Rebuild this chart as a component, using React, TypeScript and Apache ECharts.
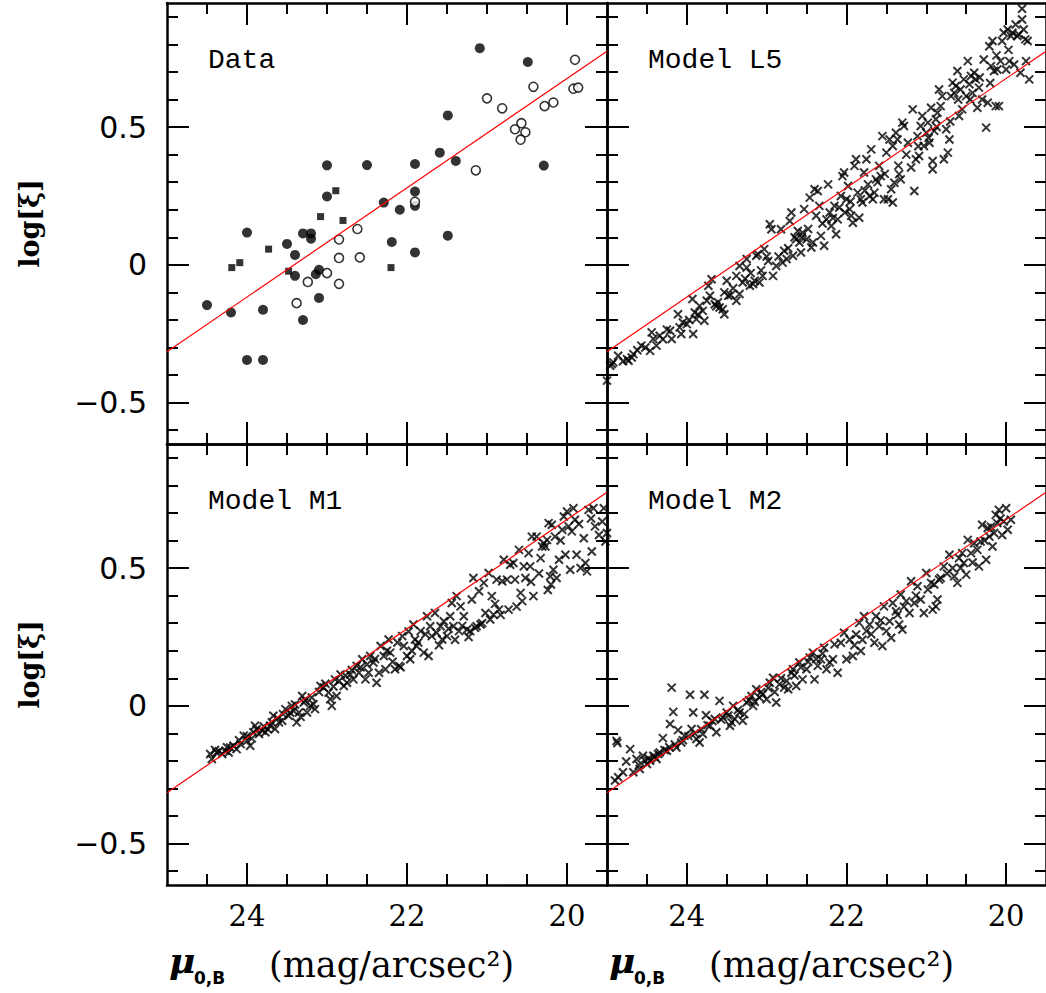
import React, { useEffect, useRef } from "react";
import * as echarts from "echarts";

// ---- axes ----
const X_MIN = 19.5;
const X_MAX = 25;
const Y_MIN = -0.65;
const Y_MAX = 0.95;
const X_MAJOR = [20, 22, 24];
const X_MINOR = [20.5, 21, 21.5, 22.5, 23, 23.5, 24.5];
const Y_MAJOR = [-0.5, 0, 0.5];
const Y_MINOR = [-0.6, -0.4, -0.3, -0.2, -0.1, 0.1, 0.2, 0.3, 0.4, 0.6, 0.7, 0.8, 0.9];

// ---- fit line (same in every panel) ----
const FIT_LINE = [
  [25, -0.315],
  [19.5, 0.775],
];

const PANEL_LABELS = ["Data", "Model L5", "Model M1", "Model M2"];

// ---- Data panel ----
const dataFilled = [
  [24.5, -0.146], [24.2, -0.173], [24.0, 0.117], [24.0, -0.345], [23.8, -0.345],
  [23.8, -0.163], [23.5, 0.076], [23.4, 0.036], [23.4, -0.04], [23.3, 0.114],
  [23.2, 0.114], [23.2, 0.095], [23.3, -0.2], [23.1, -0.018], [23.14, -0.034],
  [23.1, -0.12], [23.0, 0.361], [23.0, 0.248], [22.5, 0.362], [22.29, 0.226],
  [22.19, 0.083], [22.09, 0.2], [21.9, 0.366], [21.9, 0.266], [21.9, 0.214],
  [21.9, 0.045], [21.59, 0.407], [21.49, 0.542], [21.49, 0.106], [21.39, 0.377],
  [21.09, 0.786], [20.49, 0.736], [20.29, 0.36],
];
const dataSquares = [
  [24.19, -0.01], [24.09, 0.008], [23.73, 0.057], [23.48, -0.023],
  [23.08, 0.175], [22.89, 0.269], [22.8, 0.161], [22.2, -0.01],
];
const dataOpen = [
  [23.38, -0.139], [23.24, -0.062], [23.0, -0.03], [22.85, -0.069], [22.85, 0.025],
  [22.85, 0.092], [22.62, 0.13], [22.59, 0.027], [21.9, 0.229], [21.14, 0.343],
  [21.0, 0.604], [20.81, 0.568], [20.65, 0.492], [20.57, 0.514], [20.52, 0.481],
  [20.58, 0.454], [20.42, 0.646], [20.28, 0.576], [20.17, 0.589], [19.9, 0.744],
  [19.92, 0.639], [19.86, 0.643],
];

// ---- Model L5 ----
const modelL5 = [
  [25.0, -0.42], [24.96, -0.366], [24.92, -0.354], [24.94, -0.36], [24.86, -0.33],
  [24.75, -0.342], [24.73, -0.348], [24.69, -0.336], [24.67, -0.324], [24.57, -0.293],
  [24.46, -0.312], [24.44, -0.245], [24.42, -0.269], [24.38, -0.293], [24.34, -0.257],
  [24.21, -0.239], [24.19, -0.269], [24.09, -0.227], [24.07, -0.251], [24.11, -0.179],
  [24.05, -0.209], [24.0, -0.215], [23.92, -0.251], [23.93, -0.124], [23.9, -0.173],
  [23.88, -0.197], [23.84, -0.149], [23.8, -0.167], [23.78, -0.203], [23.75, -0.13],
  [23.73, -0.076], [23.69, -0.052], [23.71, -0.112], [23.65, -0.143], [23.61, -0.136],
  [23.59, -0.155], [23.55, -0.161], [23.53, -0.179], [23.53, -0.1], [23.5, -0.058],
  [23.48, -0.112], [23.38, -0.13], [23.38, -0.04], [23.34, -0.004], [23.34, -0.106],
  [23.3, -0.064], [23.25, 0.021], [23.25, -0.01], [23.21, -0.076], [23.17, -0.07],
  [23.15, -0.058], [23.13, 0.033], [23.11, 0.039], [23.09, -0.064], [23.05, -0.04],
  [23.03, 0.057], [22.98, 0.014], [22.96, 0.147], [22.94, 0.129], [22.92, -0.04],
  [22.88, -0.004], [22.82, 0.129], [22.8, 0.008], [22.78, 0.051], [22.75, 0.021],
  [22.71, 0.159], [22.69, 0.19], [22.67, 0.033], [22.63, 0.093], [22.61, 0.123],
  [22.59, 0.081], [22.57, 0.045], [22.55, 0.117], [22.53, 0.202], [22.5, 0.093],
  [22.46, 0.244], [22.44, 0.063], [22.42, 0.081], [22.4, 0.274], [22.38, 0.178],
  [22.36, 0.268], [22.34, 0.214], [22.32, 0.105], [22.28, 0.069], [22.25, 0.165],
  [22.23, 0.292], [22.21, 0.19], [22.19, 0.141], [22.15, 0.214], [22.13, 0.111],
  [22.11, 0.165], [22.09, 0.208], [22.07, 0.25], [22.05, 0.322], [22.03, 0.335],
  [22.0, 0.238], [21.98, 0.286], [21.96, 0.202], [21.94, 0.178], [21.92, 0.153],
  [21.9, 0.359], [21.88, 0.383], [21.86, 0.262], [21.84, 0.171], [21.82, 0.238],
  [21.8, 0.226], [21.78, 0.335], [21.75, 0.383], [21.73, 0.292], [21.71, 0.25],
  [21.69, 0.419], [21.67, 0.238], [21.65, 0.262], [21.63, 0.31], [21.59, 0.359],
  [21.57, 0.322], [21.55, 0.467], [21.53, 0.238], [21.5, 0.407], [21.48, 0.238],
  [21.46, 0.455], [21.44, 0.274], [21.42, 0.226], [21.42, 0.431], [21.4, 0.298],
  [21.38, 0.479], [21.36, 0.455], [21.34, 0.329], [21.32, 0.31], [21.3, 0.516],
  [21.28, 0.504], [21.23, 0.443], [21.19, 0.353], [21.17, 0.564], [21.15, 0.268],
  [21.13, 0.383], [21.11, 0.467], [21.09, 0.395], [21.07, 0.504], [21.05, 0.54],
  [21.03, 0.431], [21.0, 0.479], [20.98, 0.516], [20.96, 0.443], [20.94, 0.57],
  [20.92, 0.377], [20.92, 0.347], [20.9, 0.486], [20.88, 0.528], [20.86, 0.552],
  [20.84, 0.636], [20.82, 0.576], [20.8, 0.612], [20.78, 0.383], [20.75, 0.492],
  [20.73, 0.407], [20.71, 0.455], [20.69, 0.612], [20.67, 0.661], [20.65, 0.624],
  [20.63, 0.649], [20.61, 0.703], [20.59, 0.54], [20.57, 0.636], [20.55, 0.564],
  [20.53, 0.673], [20.5, 0.612], [20.48, 0.739], [20.46, 0.655], [20.44, 0.685],
  [20.42, 0.624], [20.4, 0.697], [20.38, 0.673], [20.36, 0.57], [20.34, 0.643],
  [20.3, 0.6], [20.28, 0.745], [20.25, 0.498], [20.23, 0.588], [20.21, 0.793],
  [20.19, 0.721], [20.17, 0.812], [20.15, 0.703], [20.13, 0.576], [20.11, 0.709],
  [20.09, 0.576], [20.07, 0.739], [20.05, 0.812], [20.03, 0.842], [20.0, 0.709],
  [19.98, 0.854], [19.96, 0.739], [19.94, 0.83], [19.92, 0.842], [19.9, 0.727],
  [19.88, 0.872], [19.86, 0.83], [19.84, 0.836], [19.82, 0.697], [19.8, 0.929],
  [19.8, 0.89], [19.78, 0.854], [19.76, 0.818], [19.75, 0.739], [19.73, 0.812],
  [19.71, 0.673],
  [24.8, -0.35], [24.62, -0.31], [24.52, -0.3], [24.3, -0.27], [24.25, -0.235],
  [23.97, -0.2], [23.86, -0.18], [23.63, -0.15], [23.45, -0.11], [23.42, -0.085],
  [23.27, -0.05], [23.2, -0.03], [23.07, -0.02], [23.0, 0.03], [22.85, 0.03],
  [22.73, 0.06], [22.65, 0.1], [22.56, 0.1], [22.48, 0.13], [22.3, 0.15],
  [22.17, 0.17], [22.02, 0.19], [21.95, 0.23], [21.77, 0.27], [21.61, 0.3],
  [21.52, 0.33], [21.35, 0.36], [21.25, 0.4], [21.1, 0.43], [20.97, 0.46],
  [20.87, 0.5], [20.7, 0.52], [20.6, 0.6], [20.45, 0.6], [20.33, 0.68],
  [20.2, 0.66], [20.12, 0.76], [19.97, 0.78],
];

// ---- Model M1 ----
const modelM1 = [
  [24.46, -0.175], [24.44, -0.193], [24.38, -0.169], [24.31, -0.175], [24.27, -0.163],
  [24.23, -0.169], [24.21, -0.151], [24.17, -0.145], [24.13, -0.157], [24.08, -0.139],
  [24.04, -0.108], [24.0, -0.127], [23.96, -0.145], [23.92, -0.096], [23.9, -0.072],
  [23.85, -0.102], [23.81, -0.09], [23.77, -0.096], [23.71, -0.072], [23.67, -0.036],
  [23.65, -0.084], [23.6, -0.06], [23.56, -0.054], [23.52, -0.012], [23.48, -0.036],
  [23.44, 0.0], [23.42, -0.018], [23.38, -0.06], [23.35, -0.024], [23.31, 0.036],
  [23.29, 0.012], [23.25, -0.024], [23.21, 0.0], [23.17, 0.006], [23.15, -0.012],
  [23.08, 0.072], [23.04, 0.066], [22.98, 0.048], [22.96, 0.024], [22.94, 0.0],
  [22.9, 0.096], [22.88, 0.036], [22.83, 0.114], [22.79, 0.072], [22.75, 0.084],
  [22.71, 0.114], [22.67, 0.096], [22.63, 0.145], [22.6, 0.12], [22.56, 0.169],
  [22.52, 0.096], [22.48, 0.12], [22.46, 0.181], [22.42, 0.157], [22.38, 0.084],
  [22.33, 0.217], [22.29, 0.181], [22.27, 0.133], [22.23, 0.241], [22.21, 0.193],
  [22.15, 0.133], [22.1, 0.145], [22.06, 0.253], [22.04, 0.217], [22.0, 0.181],
  [21.96, 0.169], [21.92, 0.295], [21.9, 0.241], [21.88, 0.217], [21.83, 0.271],
  [21.79, 0.193], [21.75, 0.325], [21.73, 0.181], [21.71, 0.289], [21.69, 0.253],
  [21.65, 0.337], [21.63, 0.265], [21.58, 0.289], [21.56, 0.241], [21.54, 0.307],
  [21.5, 0.253], [21.46, 0.325], [21.44, 0.373], [21.42, 0.289], [21.38, 0.398],
  [21.35, 0.271], [21.33, 0.361], [21.29, 0.325], [21.25, 0.277], [21.21, 0.271],
  [21.19, 0.386], [21.17, 0.464], [21.15, 0.283], [21.13, 0.289], [21.1, 0.416],
  [21.08, 0.295], [21.04, 0.446], [21.02, 0.337], [20.98, 0.482], [20.96, 0.313],
  [20.94, 0.398], [20.92, 0.331], [20.88, 0.458], [20.85, 0.349], [20.81, 0.452],
  [20.79, 0.53], [20.75, 0.458], [20.73, 0.349], [20.71, 0.512], [20.67, 0.518],
  [20.65, 0.458], [20.6, 0.566], [20.58, 0.41], [20.56, 0.38], [20.54, 0.506],
  [20.52, 0.464], [20.48, 0.554], [20.46, 0.506], [20.44, 0.614], [20.42, 0.398],
  [20.38, 0.614], [20.33, 0.536], [20.31, 0.578], [20.29, 0.59], [20.27, 0.578],
  [20.25, 0.602], [20.23, 0.663], [20.21, 0.47], [20.19, 0.657], [20.17, 0.494],
  [20.15, 0.614], [20.13, 0.464], [20.1, 0.53], [20.06, 0.639], [20.04, 0.687],
  [20.02, 0.548], [20.0, 0.705], [19.98, 0.651], [19.96, 0.494], [19.94, 0.633],
  [19.92, 0.717], [19.9, 0.675], [19.88, 0.548], [19.83, 0.5], [19.79, 0.608],
  [19.77, 0.518], [19.75, 0.488], [19.73, 0.711], [19.69, 0.56], [19.67, 0.717],
  [19.65, 0.651], [19.6, 0.62], [19.56, 0.669], [19.54, 0.717], [19.52, 0.596],
  [19.5, 0.627],
  [24.4, -0.16], [24.35, -0.165], [24.25, -0.15], [24.1, -0.125], [24.0, -0.11],
  [23.94, -0.118], [23.88, -0.085], [23.79, -0.075], [23.74, -0.085], [23.69, -0.06],
  [23.62, -0.045], [23.55, -0.03], [23.46, -0.025], [23.4, 0.005], [23.33, -0.04],
  [23.27, 0.02], [23.19, 0.03], [23.1, 0.05], [23.02, 0.08], [22.92, 0.07],
  [22.85, 0.09], [22.77, 0.11], [22.69, 0.13], [22.58, 0.14], [22.5, 0.15],
  [22.4, 0.17], [22.35, 0.12], [22.25, 0.2], [22.18, 0.16], [22.12, 0.23],
  [22.08, 0.14], [21.98, 0.27], [21.94, 0.2],
  [21.86, 0.23], [21.77, 0.26], [21.6, 0.22], [21.48, 0.28], [21.4, 0.24],
  [21.31, 0.29], [21.23, 0.25], [21.06, 0.3], [20.9, 0.37], [20.83, 0.33],
  [20.63, 0.36], [20.45, 0.45], [20.35, 0.48], [20.24, 0.42], [20.2, 0.44],
  [20.08, 0.6], [19.85, 0.66], [19.7, 0.68],
];

// ---- Model M2 ----
const modelM2 = [
  [24.88, -0.127], [24.87, -0.135], [24.9, -0.271], [24.86, -0.259], [24.8, -0.241],
  [24.76, -0.202], [24.71, -0.157], [24.67, -0.241], [24.63, -0.193], [24.59, -0.229],
  [24.55, -0.181], [24.5, -0.211], [24.46, -0.199], [24.42, -0.181], [24.38, -0.193],
  [24.34, -0.169], [24.3, -0.117], [24.25, -0.163], [24.21, -0.066], [24.19, 0.066],
  [24.17, -0.022], [24.13, -0.151], [24.11, -0.088], [24.07, -0.133], [24.03, -0.108],
  [23.96, 0.04], [23.94, -0.084], [23.92, -0.024], [23.88, -0.12], [23.84, -0.133],
  [23.8, -0.102], [23.78, 0.04], [23.76, -0.034], [23.71, -0.072], [23.65, -0.048],
  [23.63, -0.096], [23.59, 0.018], [23.55, -0.042], [23.5, -0.024], [23.46, -0.072],
  [23.42, 0.0], [23.4, -0.048], [23.34, -0.024], [23.3, -0.054], [23.25, 0.012],
  [23.19, 0.036], [23.17, 0.0], [23.13, 0.06], [23.09, 0.03], [23.05, 0.042],
  [23.0, 0.024], [22.96, 0.084], [22.92, 0.102], [22.88, 0.012], [22.84, 0.078],
  [22.78, 0.066], [22.73, 0.06], [22.69, 0.12], [22.67, 0.133], [22.63, 0.072],
  [22.59, 0.157], [22.55, 0.096], [22.5, 0.133], [22.46, 0.175], [22.42, 0.193],
  [22.4, 0.096], [22.36, 0.145], [22.32, 0.169], [22.28, 0.211], [22.25, 0.133],
  [22.21, 0.157], [22.17, 0.169], [22.15, 0.223], [22.11, 0.12], [22.07, 0.229],
  [22.03, 0.265], [22.0, 0.169], [21.96, 0.241], [21.92, 0.181], [21.88, 0.259],
  [21.84, 0.301], [21.82, 0.199], [21.78, 0.325], [21.75, 0.271], [21.71, 0.295],
  [21.65, 0.229], [21.63, 0.325], [21.59, 0.289], [21.55, 0.217], [21.53, 0.361],
  [21.5, 0.271], [21.46, 0.307], [21.44, 0.247], [21.42, 0.373], [21.38, 0.343],
  [21.34, 0.295], [21.32, 0.404], [21.3, 0.277], [21.25, 0.38], [21.21, 0.337],
  [21.19, 0.452], [21.15, 0.373], [21.11, 0.434], [21.07, 0.386], [21.03, 0.337],
  [21.0, 0.482], [20.98, 0.422], [20.94, 0.446], [20.92, 0.349], [20.88, 0.361],
  [20.86, 0.386], [20.84, 0.458], [20.82, 0.464], [20.78, 0.506], [20.71, 0.548],
  [20.67, 0.5], [20.65, 0.47], [20.61, 0.446], [20.59, 0.536], [20.55, 0.554],
  [20.53, 0.518], [20.5, 0.476], [20.48, 0.602], [20.44, 0.554], [20.4, 0.59],
  [20.36, 0.566], [20.34, 0.506], [20.32, 0.596], [20.3, 0.657], [20.25, 0.53],
  [20.23, 0.645], [20.21, 0.614], [20.17, 0.578], [20.15, 0.627], [20.13, 0.693],
  [20.11, 0.663], [20.09, 0.711], [20.05, 0.62], [20.03, 0.669], [20.0, 0.717],
  [19.98, 0.639], [19.94, 0.675],
  [24.6, -0.215], [24.52, -0.2], [24.48, -0.19], [24.4, -0.185], [24.36, -0.175],
  [24.28, -0.16], [24.22, -0.15], [24.15, -0.14], [24.05, -0.125], [23.98, -0.11],
  [23.9, -0.1], [23.82, -0.085], [23.74, -0.07], [23.68, -0.055], [23.57, -0.05],
  [23.48, -0.035], [23.44, -0.06], [23.36, -0.015], [23.28, -0.03], [23.22, 0.02],
  [23.15, 0.015], [23.07, 0.05], [22.98, 0.065], [22.9, 0.05], [22.82, 0.1],
  [22.75, 0.09], [22.65, 0.11], [22.57, 0.14], [22.48, 0.16], [22.38, 0.17],
  [22.3, 0.19],
  [21.9, 0.22], [21.8, 0.24], [21.69, 0.26], [21.57, 0.31], [21.36, 0.33],
  [21.28, 0.36], [21.13, 0.4], [20.9, 0.44], [20.74, 0.48], [20.57, 0.5],
  [20.42, 0.52], [20.27, 0.6], [20.19, 0.65], [20.07, 0.68],
];

const MODEL_SERIES = [modelL5, modelM1, modelM2];

const GRIDS = [
  { left: 167, top: 3, width: 440, height: 441 },
  { left: 607, top: 3, width: 440, height: 441 },
  { left: 167, top: 444, width: 440, height: 441 },
  { left: 607, top: 444, width: 440, height: 441 },
];

const CROSS = "path://M0,0L10,10M10,0L0,10";

const tickStyle = { color: "#000", width: 2 };
const frameLine = { show: true, onZero: false, lineStyle: { color: "#000", width: 2.5 } };
const noLine = { show: false, onZero: false };

function xAxesFor(gridIndex: number, showLabels: boolean) {
  const base = {
    type: "value",
    gridIndex,
    min: X_MIN,
    max: X_MAX,
    inverse: true,
    splitLine: { show: false },
  };
  const major = (position: string, labels: boolean) => ({
    ...base,
    position,
    axisLine: frameLine,
    axisTick: { show: true, inside: true, length: 22, customValues: X_MAJOR, lineStyle: tickStyle },
    axisLabel: {
      show: labels,
      customValues: X_MAJOR,
      margin: 16,
      color: "#000",
      fontFamily: "DejaVu Serif",
      fontSize: 29,
    },
  });
  const minor = (position: string) => ({
    ...base,
    position,
    axisLine: noLine,
    axisTick: { show: true, inside: true, length: 11, customValues: X_MINOR, lineStyle: tickStyle },
    axisLabel: { show: false },
  });
  return [major("bottom", showLabels), minor("bottom"), major("top", false), minor("top")];
}

function yAxesFor(gridIndex: number, showLabels: boolean) {
  const base = {
    type: "value",
    gridIndex,
    min: Y_MIN,
    max: Y_MAX,
    splitLine: { show: false },
  };
  const major = (position: string, labels: boolean) => ({
    ...base,
    position,
    axisLine: frameLine,
    axisTick: { show: true, inside: true, length: 22, customValues: Y_MAJOR, lineStyle: tickStyle },
    axisLabel: {
      show: labels,
      customValues: Y_MAJOR,
      margin: 20,
      color: "#000",
      fontFamily: "DejaVu Sans",
      fontSize: 30,
      formatter: (v: number) => (v < 0 ? "\u2212" + Math.abs(v) : String(v)),
    },
  });
  const minor = (position: string) => ({
    ...base,
    position,
    axisLine: noLine,
    axisTick: { show: true, inside: true, length: 11, customValues: Y_MINOR, lineStyle: tickStyle },
    axisLabel: { show: false },
  });
  return [major("left", showLabels), minor("left"), major("right", false), minor("right")];
}

function fitSeries(gridIndex: number) {
  return {
    type: "line",
    xAxisIndex: gridIndex * 4,
    yAxisIndex: gridIndex * 4,
    data: FIT_LINE,
    symbol: "none",
    lineStyle: { color: "#ff0000", width: 1.2 },
    z: 5,
  };
}

export default function App() {
  const ref = useRef<HTMLDivElement>(null);
  useEffect(() => {
    if (!ref.current) return;
    const chart = echarts.init(ref.current, null, { renderer: "svg" });

    const xAxis: any[] = [];
    const yAxis: any[] = [];
    GRIDS.forEach((_, i) => {
      xAxis.push(...xAxesFor(i, i >= 2));
      yAxis.push(...yAxesFor(i, i % 2 === 0));
    });

    const series: any[] = [];
    series.push({
      type: "scatter",
      xAxisIndex: 0,
      yAxisIndex: 0,
      data: dataFilled,
      symbol: "circle",
      symbolSize: 10,
      itemStyle: { color: "#000" },
    });
    series.push({
      type: "scatter",
      xAxisIndex: 0,
      yAxisIndex: 0,
      data: dataSquares,
      symbol: "rect",
      symbolSize: 7,
      itemStyle: { color: "#000" },
    });
    series.push({
      type: "scatter",
      xAxisIndex: 0,
      yAxisIndex: 0,
      data: dataOpen,
      symbol: "circle",
      symbolSize: 9,
      itemStyle: { color: "#fff", borderColor: "#000", borderWidth: 1.6 },
    });
    series.push(fitSeries(0));
    MODEL_SERIES.forEach((pts, k) => {
      const g = k + 1;
      series.push({
        type: "scatter",
        xAxisIndex: g * 4,
        yAxisIndex: g * 4,
        data: pts,
        symbol: CROSS,
        symbolSize: 8,
        itemStyle: { color: "none", borderColor: "#000", borderWidth: 2 },
      });
      series.push(fitSeries(g));
    });

    const graphic: any[] = [];
    PANEL_LABELS.forEach((label, i) => {
      const g = GRIDS[i];
      graphic.push({
        type: "text",
        x: g.left + 41,
        y: g.top + 57,
        style: {
          text: label,
          fill: "#000",
          fontFamily: "Liberation Mono",
          fontSize: 28,
          align: "left",
          verticalAlign: "middle",
        },
      });
    });
    [GRIDS[0], GRIDS[2]].forEach((g) => {
      graphic.push({
        type: "text",
        x: 29,
        y: g.top + g.height / 2,
        rotation: Math.PI / 2,
        style: {
          text: "log[\u03BE]",
          fill: "#000",
          fontFamily: "DejaVu Serif",
          fontWeight: "bold",
          fontSize: 27,
          align: "center",
          verticalAlign: "middle",
        },
      });
    });
    [GRIDS[2], GRIDS[3]].forEach((g) => {
      const x0 = g.left + 2;
      graphic.push({
        type: "text",
        x: x0,
        y: 960,
        style: {
          text: "\u03BC",
          fill: "#000",
          fontFamily: "DejaVu Serif",
          fontStyle: "italic",
          fontWeight: "bold",
          fontSize: 36,
          align: "left",
          verticalAlign: "middle",
        },
      });
      graphic.push({
        type: "text",
        x: x0 + 25,
        y: 978,
        style: {
          text: "0,B",
          fill: "#000",
          fontFamily: "DejaVu Sans",
          fontWeight: "bold",
          fontSize: 17,
          align: "left",
          verticalAlign: "middle",
        },
      });
      graphic.push({
        type: "text",
        x: x0 + 100,
        y: 965,
        style: {
          text: "(mag/arcsec\u00B2)",
          fill: "#000",
          fontFamily: "DejaVu Serif",
          fontSize: 35,
          align: "left",
          verticalAlign: "middle",
        },
      });
    });

    chart.setOption({
      animation: false,
      backgroundColor: "#fff",
      grid: GRIDS.map((g) => ({ ...g, show: false, containLabel: false })),
      xAxis,
      yAxis,
      series,
      graphic,
    });
    return () => chart.dispose();
  }, []);

  return (
    <div
      ref={ref}
      style={{ position: "absolute", left: 0, top: 0, width: 1046, height: 993, background: "#fff" }}
    />
  );
}
